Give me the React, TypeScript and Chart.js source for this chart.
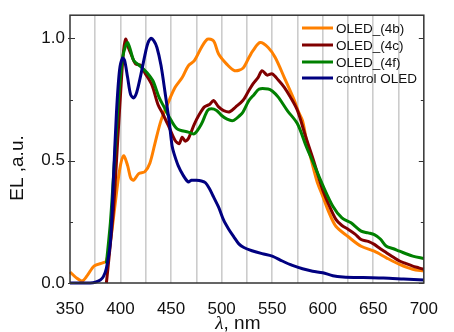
import React, { useEffect, useRef } from "react";
import { Chart, registerables } from "chart.js";

Chart.register(...registerables);

const seriesLabels = ["OLED_(4b)", "OLED_(4c)", "OLED_(4f)", "control OLED"];
const seriesColors = ["#ff8000", "#800000", "#008000", "#000080"];

const nm4b = [350,356,362,367,374,383,386,390,394,399,403,407,410,413,418,424,429,434,440,448,454,461,467,473,480,486,492,497,505,513,521,527,531,538,546,553,562,572,576,580,584,594,600,606,613,625,638,651,663,676,689,700];
const el4b = [0.045,0.022,0.008,0.03,0.07,0.083,0.09,0.17,0.30,0.46,0.52,0.48,0.43,0.42,0.447,0.455,0.49,0.57,0.664,0.746,0.80,0.84,0.888,0.909,0.963,0.997,0.99,0.936,0.895,0.868,0.878,0.922,0.95,0.983,0.963,0.922,0.84,0.746,0.70,0.664,0.583,0.42,0.355,0.29,0.232,0.19,0.15,0.13,0.103,0.076,0.056,0.049];

const nm4c = [386,389,393,397,401,403,405,408,410,415,420,424,431,437,442,448,454,458,461,464,467,473,478,483,488,492,497,502,508,514,521,526,531,536,540,545,550,556,562,568,575,583,591,600,606,613,619,625,632,638,645,651,657,663,670,676,682,689,695,700];
const el4c = [0.0,0.12,0.30,0.57,0.84,0.95,0.997,0.96,0.94,0.895,0.89,0.86,0.81,0.73,0.69,0.637,0.583,0.57,0.596,0.58,0.59,0.65,0.69,0.72,0.73,0.746,0.72,0.705,0.70,0.72,0.746,0.78,0.814,0.84,0.868,0.85,0.855,0.83,0.80,0.76,0.705,0.60,0.50,0.38,0.32,0.26,0.235,0.22,0.20,0.178,0.17,0.158,0.14,0.124,0.105,0.09,0.08,0.069,0.062,0.056];

const nm4f = [386,390,394,398,402,405,407,410,413,420,426,432,438,443,448,456,467,473,480,486,490,495,500,505,511,518,521,527,532,537,546,550,556,565,575,584,591,600,610,619,628,638,645,651,657,663,670,676,689,700];
const el4f = [0.08,0.25,0.5,0.75,0.92,0.97,0.983,0.95,0.91,0.885,0.861,0.827,0.76,0.72,0.68,0.63,0.617,0.61,0.65,0.705,0.712,0.705,0.685,0.671,0.664,0.685,0.698,0.746,0.77,0.793,0.793,0.785,0.76,0.705,0.651,0.555,0.488,0.40,0.314,0.266,0.246,0.212,0.205,0.198,0.18,0.15,0.14,0.13,0.11,0.10];

const nmCtrl = [350,360,370,375,380,383,386,390,393,396,399,402,404,407,410,413,416,420,424,427,430,433,436,440,444,448,451,453,457,462,467,470,475,480,484,488,492,497,502,507,512,517,522,530,540,550,560,570,580,590,600,610,620,640,660,680,700];
const elCtrl = [0,0,0,0.003,0.012,0.026,0.06,0.17,0.43,0.70,0.87,0.92,0.91,0.84,0.77,0.757,0.78,0.85,0.93,0.98,1.0,0.99,0.963,0.89,0.78,0.664,0.56,0.528,0.48,0.44,0.413,0.42,0.42,0.417,0.41,0.385,0.352,0.31,0.257,0.22,0.189,0.16,0.145,0.132,0.12,0.11,0.09,0.072,0.058,0.048,0.042,0.03,0.025,0.022,0.02,0.016,0.012];

const xTickLabels = [350, 400, 450, 500, 550, 600, 650, 700];
const yTickLabels = ["0.0", "0.5", "1.0"];
const xTitleSymbol = "λ";
const xTitleRest = ", nm";
const yTitle = "EL ,a.u.";

const FONT = "'Liberation Sans', Arial, sans-serif";

const toPoints = (xs: number[], ys: number[]) => xs.map((x, i) => ({ x, y: ys[i] }));

const overlay = {
  id: "overlay",
  afterDraw(chart: any) {
    const { ctx, chartArea: a, scales } = chart;
    const ys = scales.y;
    ctx.save();
    // frame
    ctx.strokeStyle = "#333";
    ctx.lineWidth = 1.5;
    ctx.strokeRect(a.left, a.top, a.right - a.left, a.bottom - a.top);
    // inward y ticks
    ctx.lineWidth = 1;
    for (let v = 0; v <= 1.0001; v += 0.25) {
      const y = Math.round(ys.getPixelForValue(v)) + 0.5;
      const major = Math.abs(v * 2 - Math.round(v * 2)) < 1e-6;
      const len = major ? 5 : 3;
      ctx.beginPath();
      ctx.moveTo(a.left - (major ? 2 : 0), y);
      ctx.lineTo(a.left + len, y);
      ctx.moveTo(a.right, y);
      ctx.lineTo(a.right - len, y);
      ctx.stroke();
    }
    // x title
    ctx.fillStyle = "#111";
    ctx.textBaseline = "alphabetic";
    const fSym = "italic 19px 'Liberation Serif', 'Times New Roman', serif";
    const fRest = `19px ${FONT}`;
    ctx.font = fSym;
    const w1 = ctx.measureText(xTitleSymbol).width;
    ctx.font = fRest;
    const w2 = ctx.measureText(xTitleRest).width;
    const cx = (a.left + a.right) / 2 - 9;
    const sx = cx - (w1 + w2) / 2;
    ctx.textAlign = "left";
    ctx.font = fSym;
    ctx.fillText(xTitleSymbol, sx, 329);
    ctx.font = fRest;
    ctx.fillText(xTitleRest, sx + w1, 329);
    // y title
    ctx.save();
    ctx.translate(23, 168);
    ctx.rotate(-Math.PI / 2);
    ctx.textAlign = "center";
    ctx.textBaseline = "alphabetic";
    ctx.font = `19px ${FONT}`;
    ctx.fillText(yTitle, 0, 0);
    ctx.restore();
    // legend
    const rows = [28, 45, 62, 78];
    chart.data.datasets.forEach((ds: any, i: number) => {
      const y = rows[i];
      ctx.strokeStyle = ds.borderColor;
      ctx.lineWidth = 3;
      ctx.beginPath();
      ctx.moveTo(302, y);
      ctx.lineTo(333, y);
      ctx.stroke();
      ctx.fillStyle = "#111";
      ctx.font = `13.5px ${FONT}`;
      ctx.textAlign = "left";
      ctx.textBaseline = "middle";
      ctx.fillText(ds.label, 336, y + 1);
    });
    ctx.restore();
  },
};

export default function App() {
  const ref = useRef<HTMLCanvasElement>(null);
  useEffect(() => {
    document.body.style.margin = "0";
    const canvas = ref.current!;
    const data = [
      toPoints(nm4b, el4b),
      toPoints(nm4c, el4c),
      toPoints(nm4f, el4f),
      toPoints(nmCtrl, elCtrl),
    ];
    const orders = [3, 2, 1, 0];
    const chart = new Chart(canvas, {
      type: "line",
      data: {
        datasets: data.map((d, i) => ({
          label: seriesLabels[i],
          data: d,
          borderColor: seriesColors[i],
          backgroundColor: seriesColors[i],
          borderWidth: 3,
          pointRadius: 0,
          tension: 0.3,
          fill: false,
          order: orders[i],
          clip: 2,
        })),
      },
      options: {
        animation: false,
        responsive: false,
        maintainAspectRatio: false,
        layout: { padding: { top: 14, right: 15, left: 0, bottom: 0 } },
        plugins: {
          legend: { display: false },
          tooltip: { enabled: false },
          title: { display: false },
        },
        scales: {
          x: {
            type: "linear",
            min: 350,
            max: 700,
            afterFit: (s: any) => {
              s.height = 49;
            },
            border: { display: false },
            grid: {
              drawTicks: false,
              color: (c: any) =>
                c.tick && c.tick.value > 350 && c.tick.value < 700 ? "#cccccc" : "rgba(0,0,0,0)",
              lineWidth: 1.6,
            },
            ticks: {
              stepSize: 25,
              autoSkip: false,
              maxRotation: 0,
              padding: 16,
              color: "#111",
              font: { family: FONT, size: 17 },
              callback: (v: any) => (xTickLabels.includes(Number(v)) ? String(v) : ""),
            },
          },
          y: {
            type: "linear",
            min: 0,
            max: 1.095,
            afterFit: (s: any) => {
              s.width = 70;
            },
            border: { display: false },
            grid: { display: false, drawTicks: false },
            ticks: {
              stepSize: 0.5,
              includeBounds: false,
              padding: 5,
              color: "#111",
              font: { family: FONT, size: 17 },
              callback: (v: any) => {
                const idx = [0, 0.5, 1].findIndex((t) => Math.abs(t - Number(v)) < 1e-6);
                return idx >= 0 ? yTickLabels[idx] : "";
              },
            },
          },
        },
      },
      plugins: [overlay],
    });
    return () => chart.destroy();
  }, []);
  return (
    <div style={{ width: 454, height: 332, background: "#fff" }}>
      <canvas ref={ref} width={454} height={332} style={{ display: "block" }} />
    </div>
  );
}
